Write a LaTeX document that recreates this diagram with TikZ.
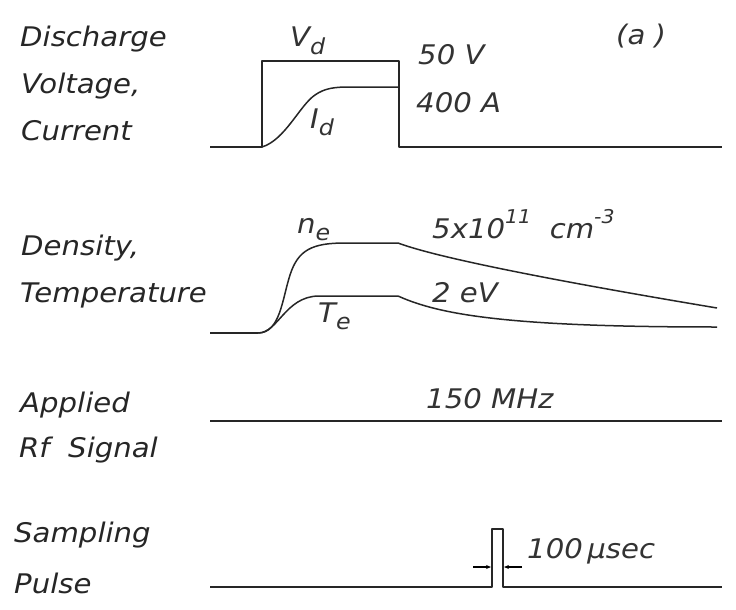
\documentclass[tikz,border=0pt]{standalone}
\usepackage{fontspec}
\setmainfont{DejaVu Sans}[FakeStretch=1.08]
\usetikzlibrary{arrows.meta}
\begin{document}
\begin{tikzpicture}[x=1pt,y=-1pt,
  wave/.style={line width=1.5pt,line join=round,draw=black!85},
  lbl/.style={anchor=base west,inner sep=0pt,font=\fontsize{27}{30}\selectfont\itshape,text=black!85},
  val/.style={anchor=base west,inner sep=0pt,font=\fontsize{27}{30}\selectfont\itshape,text=black!80}]
\useasboundingbox (0,0) rectangle (736,610);
\newcommand{\sbs}[1]{\raisebox{-0.5ex}{\fontsize{22}{22}\selectfont #1}}
\newcommand{\sps}[1]{\raisebox{1.0ex}{\fontsize{19}{19}\selectfont #1}}
% left labels
\node[lbl] (l1) at (20,47) {Discharge};
\node[lbl] (l2) at (21,93) {Voltage,};
\node[lbl] (l3) at (21,140) {Current};
\node[lbl] (l4) at (21,255) {Density,};
\node[lbl] (l5) at (20,302) {Temperature};
\node[lbl] (l6) at (20,412) {Applied};
\node[lbl] (l7) at (19,457) {Rf\ \ Signal};
\node[lbl] (l8) at (14,542) {Sampling};
\node[lbl] (l9) at (14,593) {Pulse};
\node[val] (a) at (616,45) {(a )};
% discharge
\draw[wave] (210,147) -- (262,147) -- (262,61) -- (399,61) -- (399,147) -- (722,147);
\draw[wave] (262,147) .. controls (285,140) and (300,105) .. (315,95) .. controls (325,88) and (335,87) .. (350,87) -- (399,87);
\node[val] (vd) at (290,47) {V\sbs{d}};
\node[val] (v50) at (418,65) {50 V};
\node[val] (a400) at (416,112) {400 A};
\node[val] (id) at (310,128) {I\sbs{d}};
% density, temperature
\draw[wave] (210,333) -- (258,333);
\draw[wave] (258,333) .. controls (280,333) and (282,300) .. (290,275) .. controls (298,250) and (312,243) .. (345,243) -- (398,243)
  .. controls (430,255) and (520,275) .. (717,308);
\draw[wave] (258,333) .. controls (278,333) and (285,297) .. (318,296) -- (398,296)
  .. controls (440,315) and (510,327) .. (717,327);
\node[val] (ne) at (297,233) {n\sbs{e}};
\node[val] (nv) at (432,238) {5x10\sps{11}\ \ cm\sps{-3}};
\node[val] (tv) at (432,302) {2 eV};
\node[val] (te) at (318,322) {T\sbs{e}};
% rf
\draw[wave] (210,421) -- (722,421);
\node[val] (rf) at (426,408) {150 MHz};
% sampling
\draw[wave] (210,587) -- (492,587) -- (492,529) -- (503,529) -- (503,587) -- (722,587);
\coordinate (pl) at (491,567);
\coordinate (pr) at (504,567);
\draw[line width=1.3pt,-{Stealth[length=5pt,width=4pt]}] (473,567) -- (pl);
\draw[line width=1.3pt,-{Stealth[length=5pt,width=4pt]}] (522,567) -- (pr);
\node[val] (us) at (527,558) {100\,μsec};
\end{tikzpicture}
\end{document}
